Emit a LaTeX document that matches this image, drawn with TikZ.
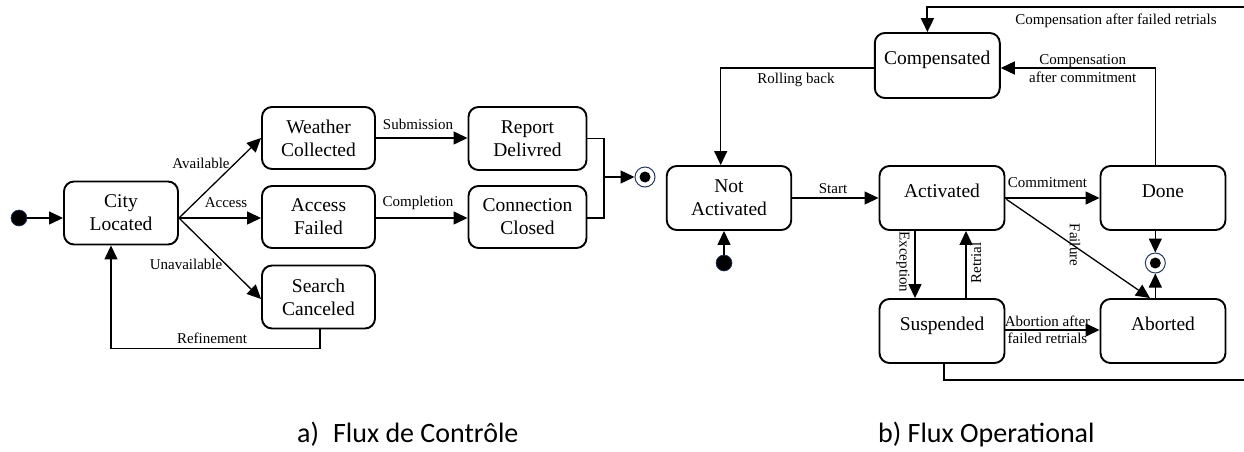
\documentclass[tikz,border=0pt]{standalone}
\usepackage{fontspec}
\setmainfont{Liberation Serif}
\newfontfamily\capfont{Carlito}
\usetikzlibrary{arrows.meta}
\definecolor{stateblue}{HTML}{1F3A6E}
\tikzset{
  statebox/.style={draw, line width=1.9pt, rounded corners=10pt, align=center,
    font=\fontsize{19.5}{23}\selectfont, inner sep=0pt},
  oneline/.style={text height=13pt, text depth=15pt},
  initst/.style={circle, fill=black, draw=stateblue, line width=0.6pt, minimum size=16pt, inner sep=0pt},
  finalst/.style={circle, fill=white, draw=stateblue, line width=1pt, minimum size=20pt, inner sep=0pt,
    path picture={\fill[black] (path picture bounding box.center) circle (5.5pt);}},
  conn/.style={line width=1.3pt, -{Triangle[length=14pt,width=13pt]}},
  plain/.style={line width=1.3pt},
  lbl/.style={font=\fontsize{15}{17.5}\selectfont, inner sep=0pt, align=center},
  caption/.style={font=\capfont\fontsize{28}{32}\selectfont, anchor=base west, inner sep=0pt}
}
\begin{document}
\begin{tikzpicture}[x=1pt, y=-1pt]
\useasboundingbox (0,0) rectangle (1244,452);
\clip (0,0) rectangle (1244,452);

% ---- control flow ----
\node[initst] (i1) at (19,218) {};
\node[statebox, minimum width=114pt, minimum height=63pt] (city) at (121,213) {City\\Located};
\node[statebox, minimum width=113pt, minimum height=62pt] (weather) at (318.5,138) {Weather\\Collected};
\node[statebox, minimum width=113pt, minimum height=62pt] (access) at (318.5,217) {Access\\Failed};
\node[statebox, minimum width=113pt, minimum height=63pt] (search) at (318.5,297) {Search\\Canceled};
\node[statebox, minimum width=118pt, minimum height=63pt] (report) at (527.5,138.5) {Report\\Delivred};
\node[statebox, minimum width=118pt, minimum height=62pt] (connect) at (527.5,217) {Connection\\Closed};
\node[finalst] (f1) at (645,177) {};
\coordinate (cityout) at (179,218);
\coordinate (joinx) at (604,177);

\draw[conn] (i1) -- (i1 -| city.west);
\draw[conn] (cityout) -- (weather.west);
\draw[conn] (cityout) -- (cityout -| access.west);
\draw[conn] (cityout) -- ([yshift=-2pt]search.west);
\draw[conn] (weather.east) -- (weather.east -| report.west);
\draw[conn] (cityout -| access.east) -- (cityout -| connect.west);
\draw[plain] (report.east) -| (joinx) |- (cityout -| connect.east);
\draw[conn] (joinx) -- (f1);
\draw[conn] ([xshift=1.5pt]search.south) -- ++(0,19) -| ([xshift=-10pt]city.south);

\node[lbl] at (201,163) {Available};
\node[lbl] at (226,203) {Access};
\node[lbl] at (186,264) {Unavailable};
\node[lbl] at (418,124) {Submission};
\node[lbl] at (418,203) {Completion};
\node[lbl] at (212,338) {Refinement};

% ---- operational flow ----
\node[statebox, oneline, minimum width=125pt, minimum height=65pt] (comp) at (937.3,65.5) {Compensated};
\node[statebox, minimum width=124.5pt, minimum height=64pt] (notact) at (729,198) {Not\\Activated};
\node[statebox, oneline, minimum width=125pt, minimum height=64pt] (act) at (942,198) {Activated};
\node[statebox, oneline, minimum width=125pt, minimum height=64pt] (done) at (1163,198) {Done};
\node[statebox, oneline, minimum width=125pt, minimum height=64pt] (susp) at (942,331) {Suspended};
\node[statebox, oneline, minimum width=125pt, minimum height=64pt] (abort) at (1163,331) {Aborted};
\node[initst] (i2) at (724,263) {};
\node[finalst] (f2) at (1155.3,263) {};
\coordinate (ctop) at (927.4,7);
\coordinate (cside) at (1155.3,68);
\coordinate (corner) at (1262,380);

\draw[conn] (i2) -- (i2 |- notact.south);
\draw[conn] (notact.east) -- (act.west);
\draw[conn] (act.east) -- (done.west);
\draw[conn] ([xshift=-27pt]act.south) -- ([xshift=-27pt]susp.north);
\draw[conn] ([xshift=24pt]susp.north) -- ([xshift=24pt]act.south);
\draw[conn] (1006.4,199.3) -- ([xshift=-13pt]abort.north);
\draw[conn] (f2 |- done.south) -- (f2);
\draw[conn] (f2 |- abort.north) -- (f2);
\draw[conn] (susp.east |- 0,330) -- (abort.west |- 0,330);
\draw[conn] (done.north -| cside) -- (cside) -- (cside -| comp.east);
\draw[conn] (comp.west |- cside) -| ([xshift=-8.3pt]notact.north);
\draw[line width=1.9pt, -{Triangle[length=14pt,width=13pt]}]
  ([xshift=1.8pt]susp.south) |- (corner) |- (ctop) -- (ctop |- comp.north);

\node[lbl] at (833,189) {Start};
\node[lbl] at (1047.5,183) {Commitment};
\node[lbl, rotate=-90] at (903,262) {Exception};
\node[lbl, rotate=90] at (976,263) {Retrial};
\node[lbl, rotate=-90] at (1075,245) {Failure};
\node[lbl] at (1047.5,330) {Abortion after\\failed retrials};
\node[lbl] at (1082.7,68.5) {Compensation\\after commitment};
\node[lbl] at (796,80) {Rolling back};
\node[lbl] at (1116,21) {Compensation after failed retrials};

% ---- captions ----
\node[caption] (capa) at (297,442) {a)\hspace{14pt}Flux de Contrôle};
\node[caption] (capb) at (878,442) {b) Flux Operational};
\end{tikzpicture}
\end{document}
